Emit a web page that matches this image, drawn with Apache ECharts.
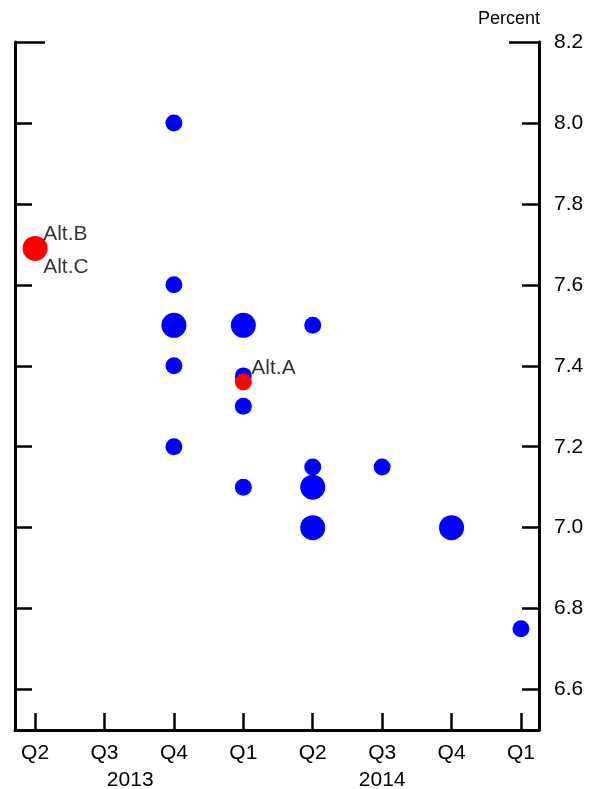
<!DOCTYPE html>
<html><head><meta charset="utf-8">
<script src="https://cdn.jsdelivr.net/npm/echarts@6/dist/echarts.min.js"></script>
<style>html,body{margin:0;padding:0;background:#fff}#c{width:596px;height:789px}</style>
</head><body><div id="c"></div>
<script>
// Categories (quarters) and year labels
const quarters = ['Q2','Q3','Q4','Q1','Q2','Q3','Q4','Q1'];
const years = ['2013','2014'];
const yearPos = [1.37, 5];          // category position where each year label sits
const yTicks = [6.6,6.8,7.0,7.2,7.4,7.6,7.8,8.0,8.2];

// Blue: participant projections (quarter index, percent, number of participants)
const blueQ     = [2,   2,   2,   2,   2,   3,   3,    3,   3,   4,   4,    4,   4,   5,    6,   7];
const blueVal   = [8.0, 7.6, 7.5, 7.4, 7.2, 7.5, 7.375,7.3, 7.1, 7.5, 7.15, 7.1, 7.0, 7.15, 7.0, 6.75];
const blueCount = [1,   1,   2,   1,   1,   2,   1,    1,   1,   1,   1,    2,   2,   1,    2,   1];

// Red: alternatives
const redQ     = [0,    3];
const redVal   = [7.69, 7.36];
const redCount = [2,    1];
const redNames = [['Alt.B','Alt.C'], ['Alt.A']];

const FONT = '"Liberation Sans", Arial, sans-serif';
const FS = 21;
const sizeOf = c => c === 2 ? 25 : 17;

const blueData = blueQ.map((q,i)=>({value:[q, blueVal[i]], symbolSize:sizeOf(blueCount[i])}));
const redData  = redQ.map((q,i)=>({value:[q, redVal[i]], symbolSize:sizeOf(redCount[i])}));

const labelData = [];
redQ.forEach((q,i)=>{
  redNames[i].forEach((nm,j)=>{
    labelData.push({value:[q, redVal[i]], name:nm,
      label:{position: j===0 ? [8,-14] : [8,19]}});
  });
});

const yBase = {type:'value', min:6.5, max:8.2, splitLine:{show:false}};
const lineOn = {show:true, onZero:false, lineStyle:{color:'#000', width:3}};
const tickStyle = {color:'#000', width:2.5};
const chart = echarts.init(document.getElementById('c'));
chart.setOption({
  animation:false,
  grid:{left:15, right:57, top:42, bottom:59, outerBoundsMode:'none', containLabel:false},
  xAxis:[
    {type:'value', min:-0.29, max:7.26, position:'bottom',
     axisLine:lineOn,
     axisTick:{inside:true, length:17, lineStyle:tickStyle, customValues:[0,1,2,3,4,5,6,7]},
     axisLabel:{customValues:[0,1,2,3,4,5,6,7], margin:13, color:'#000', fontSize:FS, fontFamily:FONT,
       formatter:v=>quarters[Math.round(v)]},
     splitLine:{show:false}},
    {type:'value', min:-0.29, max:7.26, position:'bottom',
     axisLine:{show:false, onZero:false}, axisTick:{show:false},
     axisLabel:{customValues:yearPos, margin:40, color:'#000', fontSize:FS, fontFamily:FONT,
       formatter:v=>years[yearPos.indexOf(v)]},
     splitLine:{show:false}}
  ],
  yAxis:[
    Object.assign({}, yBase, {position:'right',
      axisLine:lineOn,
      axisTick:{show:true, inside:true, length:17, lineStyle:tickStyle, customValues:yTicks.slice(0,-1)},
      axisLabel:{customValues:yTicks, margin:15, color:'#000', fontSize:FS, fontFamily:FONT, formatter:v=>v.toFixed(1)}}),
    Object.assign({}, yBase, {position:'left',
      axisLine:lineOn,
      axisTick:{show:true, inside:true, length:17, lineStyle:tickStyle, customValues:yTicks.slice(0,-1)},
      axisLabel:{show:false}}),
    Object.assign({}, yBase, {position:'right', offset:0,
      axisLine:{show:false, onZero:false},
      axisTick:{show:true, inside:true, length:30, lineStyle:tickStyle, customValues:[8.2]},
      axisLabel:{show:false}}),
    Object.assign({}, yBase, {position:'left', offset:0,
      axisLine:{show:false, onZero:false},
      axisTick:{show:true, inside:true, length:30, lineStyle:tickStyle, customValues:[8.2]},
      axisLabel:{show:false}})
  ],
  graphic:[{type:'text', right:56, top:10, style:{text:'Percent', fontSize:18, fontFamily:FONT, fill:'#000'}}],
  series:[
    {type:'scatter', data:blueData, itemStyle:{color:'#0000ff', opacity:1}, z:2},
    {type:'scatter', data:redData, itemStyle:{color:'#ff0000', opacity:1}, z:3},
    {type:'scatter', data:labelData, symbolSize:0, z:4,
     label:{show:true, formatter:p=>p.name, color:'#000', fontSize:FS, fontFamily:FONT,
       textBorderWidth:0, align:'left', verticalAlign:'middle'}}
  ]
});
</script></body></html>
